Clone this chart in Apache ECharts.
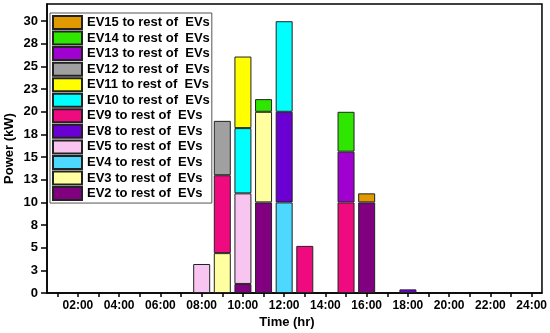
<!DOCTYPE html>
<html>
<head>
<meta charset="utf-8">
<script src="https://cdn.jsdelivr.net/npm/echarts@6/dist/echarts.min.js"></script>
<style>html,body{margin:0;padding:0;background:#fff;}#c{width:550px;height:333px;}</style>
</head>
<body>
<div id="c"></div>
<script>
const _ = null;
// x categories (hours) – labels shown every 2 h
const hours = ['01:00','02:00','03:00','04:00','05:00','06:00','07:00','08:00','09:00','10:00','11:00','12:00',
               '13:00','14:00','15:00','16:00','17:00','18:00','19:00','20:00','21:00','22:00','23:00','24:00'];
// y tick values (labels are rounded)
const yTicks = [0, 2.5, 5, 7.5, 10, 12.5, 15, 17.5, 20, 22.5, 25, 27.5, 30];

// power (kW) per hour, one array per source EV
const ev2  = [_,_,_,_,_,_,_,_,_,1.0,10.0,_,_,_,_,10.0,_,_,_,_,_,_,_,_];
const ev3  = [_,_,_,_,_,_,_,_,4.4,_,10.0,_,_,_,_,_,_,_,_,_,_,_,_,_];
const ev4  = [_,_,_,_,_,_,_,_,_,_,_,10.0,_,_,_,_,_,_,_,_,_,_,_,_];
const ev5  = [_,_,_,_,_,_,_,3.2,_,10.0,_,_,_,_,_,_,_,_,_,_,_,_,_,_];
const ev8  = [_,_,_,_,_,_,_,_,_,_,_,10.0,_,_,_,_,_,0.4,_,_,_,_,_,_];
const ev9  = [_,_,_,_,_,_,_,_,8.6,_,_,_,5.2,_,10.0,_,_,_,_,_,_,_,_,_];
const ev10 = [_,_,_,_,_,_,_,_,_,7.2,_,10.0,_,_,_,_,_,_,_,_,_,_,_,_];
const ev11 = [_,_,_,_,_,_,_,_,_,7.9,_,_,_,_,_,_,_,_,_,_,_,_,_,_];
const ev12 = [_,_,_,_,_,_,_,_,6.0,_,_,_,_,_,_,_,_,_,_,_,_,_,_,_];
const ev13 = [_,_,_,_,_,_,_,_,_,_,_,_,_,_,5.6,_,_,_,_,_,_,_,_,_];
const ev14 = [_,_,_,_,_,_,_,_,_,_,1.4,_,_,_,4.4,_,_,_,_,_,_,_,_,_];
const ev15 = [_,_,_,_,_,_,_,_,_,_,_,_,_,_,_,1.0,_,_,_,_,_,_,_,_];

const seriesNames = ['EV2','EV3','EV4','EV5','EV8','EV9','EV10','EV11','EV12','EV13','EV14','EV15'];
const seriesData  = [ev2, ev3, ev4, ev5, ev8, ev9, ev10, ev11, ev12, ev13, ev14, ev15];
const seriesColors = ['#800080','#FFFFA0','#4DD8FF','#F8C4F0','#6A00D4','#F00A80',
                      '#00FFFF','#FFFF00','#A0A0A0','#A000D0','#2EE600','#E09A00'];

const FONT = 'Liberation Sans, Arial, sans-serif';
const label = n => n + ' to rest of  EVs';

const chart = echarts.init(document.getElementById('c'), null, {renderer: 'canvas'});
chart.setOption({
  animation: false,
  backgroundColor: '#fff',
  grid: {left: 47, right: 8, top: 4, bottom: 40, show: true, borderColor: '#000', borderWidth: 1.5, backgroundColor: 'transparent'},
  xAxis: {
    type: 'category', data: hours, boundaryGap: true,
    axisLine: {lineStyle: {color: '#000', width: 1.5}},
    axisTick: {show: true, alignWithLabel: true, interval: 0, length: 4, lineStyle: {color: '#000', width: 1.5}},
    axisLabel: {interval: (i) => i % 2 === 1, margin: 7, color: '#000', fontWeight: 'bold', fontSize: 12, fontFamily: FONT},
    splitLine: {show: false}
  },
  yAxis: {
    type: 'value', min: 0, max: 31.9, interval: 2.5,
    axisLine: {show: true, lineStyle: {color: '#000', width: 1.5}},
    axisTick: {show: true, length: 6, lineStyle: {color: '#000', width: 1.5}},
    axisLabel: {
      margin: 9, color: '#000', fontWeight: 'bold', fontSize: 13, fontFamily: FONT, showMaxLabel: false,
      formatter: v => (yTicks.indexOf(v) >= 0 ? String(Math.round(v)) : '')
    },
    splitLine: {show: false}
  },
  legend: {
    orient: 'vertical', left: 50, top: 13,
    itemWidth: 29, itemHeight: 13, itemGap: 0.55,
    padding: [2, 2, 2, 2],
    backgroundColor: '#fff', borderColor: '#555', borderWidth: 1,
    icon: 'rect',
    data: seriesNames.slice().reverse().map(label),
    textStyle: {color: '#000', fontWeight: 'bold', fontSize: 13, fontFamily: FONT}
  },
  series: seriesNames.map((n, i) => ({
    name: label(n), type: 'bar', stack: 'p', barWidth: 17,
    data: seriesData[i],
    itemStyle: {color: seriesColors[i], borderColor: '#222', borderWidth: 1}
  })),
  graphic: [
    {type: 'text', x: 9, y: 148.5, rotation: Math.PI / 2,
     style: {text: 'Power (kW)', font: 'bold 13px ' + FONT, fill: '#000', textAlign: 'center', textVerticalAlign: 'middle'}},
    {type: 'text', x: 287, y: 322,
     style: {text: 'Time (hr)', font: 'bold 13px ' + FONT, fill: '#000', textAlign: 'center', textVerticalAlign: 'middle'}}
  ]
});
</script>
</body>
</html>
